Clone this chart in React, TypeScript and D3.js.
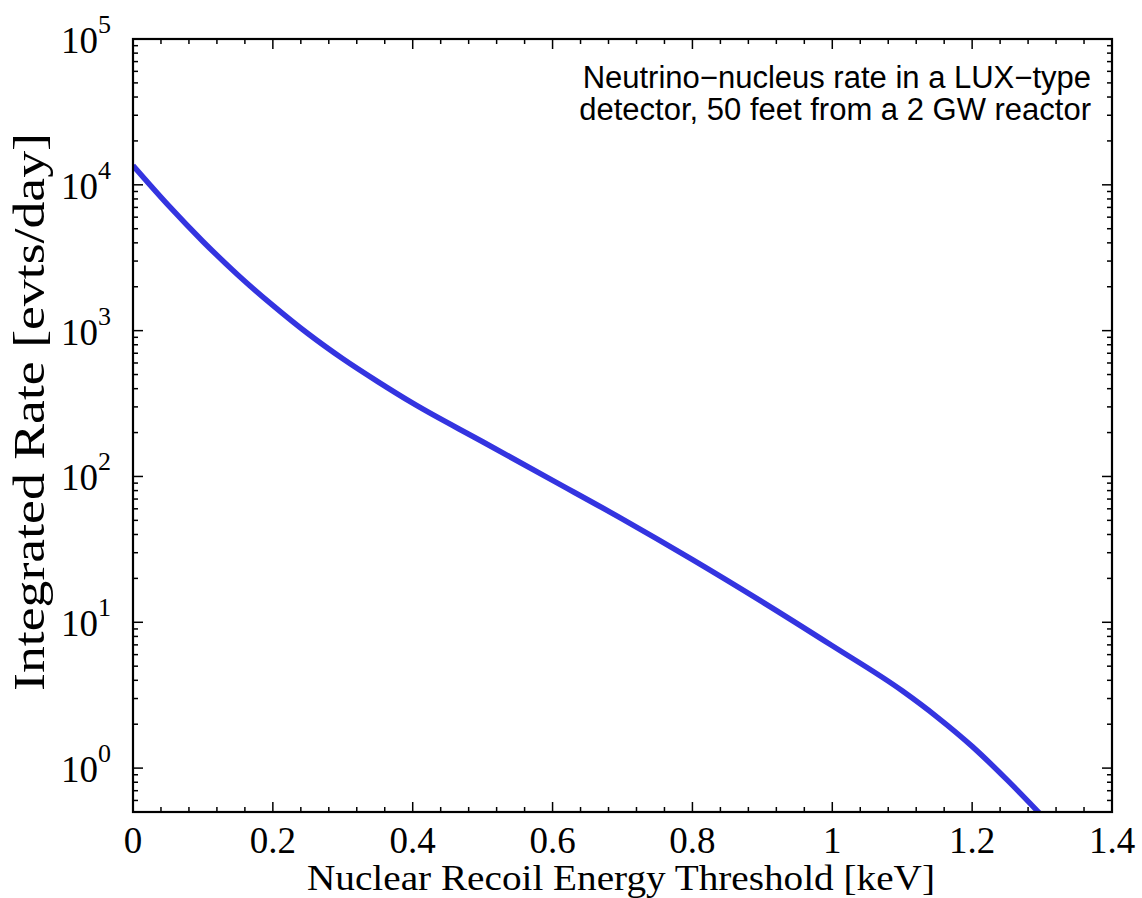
import React from "react";
import * as d3 from "d3";

const energy = [0, 0.05, 0.1, 0.15, 0.2, 0.25, 0.3, 0.35, 0.4, 0.5, 0.6, 0.7, 0.8, 0.9, 1.0, 1.1, 1.15, 1.2, 1.25, 1.3];
const rate = [13550, 7280, 4090, 2410, 1490, 955, 641, 447, 318, 173, 94, 51, 26.9, 13.8, 6.9, 3.39, 2.24, 1.41, 0.83, 0.47];
const xTicks = [0, 0.2, 0.4, 0.6, 0.8, 1, 1.2, 1.4];
const yExponents = [0, 1, 2, 3, 4, 5];
const annotation = ["Neutrino\u2212nucleus rate in a LUX\u2212type", "detector, 50 feet from a 2 GW reactor"];
const xTitle = "Nuclear Recoil Energy Threshold [keV]";
const yTitle = "Integrated Rate [evts/day]";

const W = 1142, H = 898;
const L = 133, R = 1112, T = 39, B = 812;

export default function App() {
  const x = d3.scaleLinear().domain([0, 1.4]).range([L, R]);
  const y = d3.scaleLog().domain([0.5, 1e5]).range([B, T]);
  const pts = energy.map((e, i) => [e, rate[i]] as [number, number]);
  const line = d3.line<[number, number]>().x(d => x(d[0])).y(d => y(d[1])).curve(d3.curveMonotoneX);

  const xMinor: number[] = [];
  for (let i = 0; i <= 35; i++) xMinor.push(i * 0.04);
  const yMinor: number[] = [];
  for (let e = -1; e <= 4; e++) for (let m = 2; m <= 9; m++) { const v = m * Math.pow(10, e); if (v >= 0.5 && v <= 1e5) yMinor.push(v); }

  const serif = "'Liberation Serif', 'Times New Roman', serif";
  const sans = "'Liberation Sans', Arial, sans-serif";
  const majLen = 10, minLen = 5;

  return (
    <svg width={W} height={H} style={{ position: "absolute", left: 0, top: 0, background: "#fff" }}>
      <defs>
        <clipPath id="plotclip"><rect x={L} y={T} width={R - L} height={B - T} /></clipPath>
      </defs>
      <rect x={0} y={0} width={W} height={H} fill="#fff" />
      <path d={line(pts) || ""} fill="none" stroke="#3434e0" strokeWidth={5.5} clipPath="url(#plotclip)" />
      <g stroke="#000" strokeWidth={1.5}>
        {xMinor.map((v, i) => {
          const major = i % 5 === 0;
          const len = major ? majLen : minLen;
          return (
            <g key={"xm" + i}>
              <line x1={x(v)} x2={x(v)} y1={B} y2={B - len} />
              <line x1={x(v)} x2={x(v)} y1={T} y2={T + len} />
            </g>
          );
        })}
        {yExponents.map(e => (
          <g key={"yM" + e}>
            <line x1={L} x2={L + majLen} y1={y(Math.pow(10, e))} y2={y(Math.pow(10, e))} />
            <line x1={R} x2={R - majLen} y1={y(Math.pow(10, e))} y2={y(Math.pow(10, e))} />
          </g>
        ))}
        {yMinor.map((v, i) => (
          <g key={"ym" + i}>
            <line x1={L} x2={L + minLen} y1={y(v)} y2={y(v)} />
            <line x1={R} x2={R - minLen} y1={y(v)} y2={y(v)} />
          </g>
        ))}
      </g>
      <rect x={L} y={T} width={R - L} height={B - T} fill="none" stroke="#000" strokeWidth={2.2} />
      <g fontFamily={serif} fill="#000">
        {xTicks.map(v => (
          <text key={"xt" + v} x={x(v)} y={B + 41} textAnchor="middle" fontSize={37}>{String(v)}</text>
        ))}
        {yExponents.map(e => (
          <text key={"yt" + e} x={L - 22} y={y(Math.pow(10, e)) + 14} textAnchor="end" fontSize={37}>
            10
            <tspan fontSize={26} dy={-20}>{String(e)}</tspan>
          </text>
        ))}
        <text x={621} y={890} textAnchor="middle" fontSize={36} textLength={628} lengthAdjust="spacingAndGlyphs">{xTitle}</text>
        <text transform={`translate(44, 412) rotate(-90)`} textAnchor="middle" fontSize={44} textLength={558} lengthAdjust="spacingAndGlyphs">{yTitle}</text>
      </g>
      <g fontFamily={sans} fill="#000" fontSize={31}>
        {annotation.map((s, i) => (
          <text key={"an" + i} x={1091} y={88 + i * 32} textAnchor="end">{s}</text>
        ))}
      </g>
    </svg>
  );
}
